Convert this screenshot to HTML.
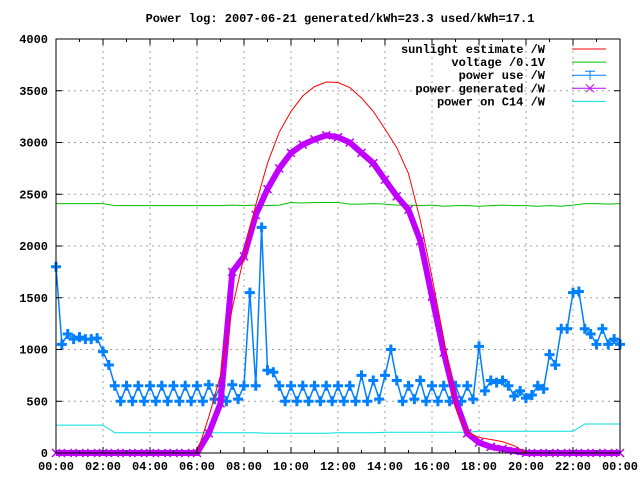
<!DOCTYPE html>
<html><head><meta charset="utf-8"><style>
body{margin:0;background:#fff}
text{font-family:"Liberation Mono","DejaVu Sans Mono",monospace;font-size:12px;font-weight:bold;fill:#000}
</style></head><body>
<svg id="c" width="640" height="480" xmlns="http://www.w3.org/2000/svg">
<text x="340" y="22" text-anchor="middle">Power log: 2007-06-21 generated/kWh=23.3 used/kWh=17.1</text>
<g id="grid"></g><g id="series"></g><g id="axes"></g><g id="legend"></g>
</svg>
<script>
const yTicks=[0,500,1000,1500,2000,2500,3000,3500,4000];
const xTickLabels=["00:00","02:00","04:00","06:00","08:00","10:00","12:00","14:00","16:00","18:00","20:00","22:00","00:00"];
// half-hourly series (49 points, 00:00..24:00)
const sunlight=[0,0,0,0,0,0,0,0,0,0,0,0,0,350,750,1400,1900,2400,2800,3100,3300,3450,3540,3585,3580,3530,3430,3300,3130,2950,2700,2250,1700,1100,450,200,150,130,110,70,0,0,0,0,0,0,0,0,0];
const voltage=[2410,2410,2410,2410,2410,2390,2390,2390,2390,2390,2390,2390,2390,2390,2390,2395,2390,2395,2390,2395,2420,2415,2420,2420,2420,2405,2405,2410,2405,2395,2395,2390,2395,2385,2390,2390,2385,2390,2395,2390,2390,2385,2390,2385,2395,2410,2410,2405,2410];
const generated=[0,0,0,0,0,0,0,0,0,0,0,0,0,190,480,1750,1900,2300,2550,2750,2900,2980,3030,3070,3050,3000,2900,2800,2640,2480,2350,2050,1510,970,510,190,100,60,40,20,0,0,0,0,0,0,0,0,0];
const c14=[270,270,270,270,270,195,195,195,195,195,195,195,195,195,195,195,195,195,190,190,190,190,190,190,195,195,195,195,200,200,200,200,200,200,200,200,210,210,210,210,210,210,210,210,210,280,280,280,280];
// quarter-hourly power use (97 points)
const powerUse=[1800,1050,1150,1100,1120,1100,1100,1110,980,850,650,500,650,500,650,500,650,500,650,500,650,500,650,500,650,500,660,520,650,500,660,520,650,1550,650,2180,800,780,650,500,650,500,650,500,650,500,650,500,650,500,650,500,750,500,700,520,750,1000,700,500,650,520,700,500,650,500,650,500,650,500,650,520,1030,600,700,680,700,650,550,600,530,560,650,620,950,850,1200,1200,1550,1560,1200,1150,1050,1200,1050,1100,1050];
const L=56,R=620,T=39,B=453,NS="http://www.w3.org/2000/svg";
const X=h=>L+(R-L)*h/24, Y=v=>B-(B-T)*v/4000;
function mk(tag,attrs,parent){const e=document.createElementNS(NS,tag);for(const k in attrs)e.setAttribute(k,attrs[k]);document.getElementById(parent).appendChild(e);return e;}
yTicks.forEach((v,i)=>{
 if(i>0&&i<yTicks.length-1){const g=mk('line',{x1:L,x2:R,y1:Y(v),y2:Y(v),stroke:'#a0a0a0','stroke-dasharray':'2,4'},'grid');
 
 }
 const t=mk('text',{x:L-8,y:Y(v)+4,'text-anchor':'end'},'axes');t.textContent=v;
 
 
 mk('line',{x1:L,x2:L+6,y1:Y(v),y2:Y(v),stroke:'#000'},'axes');
 mk('line',{x1:R,x2:R-6,y1:Y(v),y2:Y(v),stroke:'#000'},'axes');
});
xTickLabels.forEach((s,i)=>{
 const x=X(i*2);
 if(i>0&&i<xTickLabels.length-1){const g=mk('line',{x1:x,x2:x,y1:T,y2:B,stroke:'#a0a0a0','stroke-dasharray':'2,4'},'grid');
 
 }
 const t=mk('text',{x:x,y:B+17,'text-anchor':'middle'},'axes');t.textContent=s;
 
 
 mk('line',{x1:x,x2:x,y1:B,y2:B-6,stroke:'#000'},'axes');
 mk('line',{x1:x,x2:x,y1:T,y2:T+6,stroke:'#000'},'axes');
 if(i<12){const xm=X(i*2+1);mk('line',{x1:xm,x2:xm,y1:B,y2:B-3,stroke:'#000'},'axes');mk('line',{x1:xm,x2:xm,y1:T,y2:T+3,stroke:'#000'},'axes');}
});
const fr=mk('rect',{x:L,y:T,width:R-L,height:B-T,fill:'none',stroke:'#000'},'axes');


function pts(arr,step){return arr.map((v,i)=>X(i*step).toFixed(1)+','+Y(v).toFixed(1)).join(' ');}
function line(arr,step,color,w,name){const p=mk('polyline',{points:pts(arr,step),fill:'none',stroke:color,'stroke-width':w},'series');
 
 return p;}
line(voltage,0.5,'#00c000',1,'voltage-line');
line(c14,0.5,'#00e0e0',1,'c14-line');
line(powerUse,0.25,'#0080ff',1.5,'power-use-line');
powerUse.forEach((v,i)=>{const x=X(i*0.25),y=Y(v);
 const m=mk('path',{d:`M${x-5},${y}h10M${x},${y-5}v10`,stroke:'#0080ff','stroke-width':3},'series');
 
 });
line(generated,0.5,'#c000ff',6,'power-generated-line');
generated.forEach((v,i)=>{const x=X(i*0.5),y=Y(v);
 const m=mk('path',{d:`M${x-4},${y-4}l8,8M${x-4},${y+4}l8,-8`,stroke:'#c000ff','stroke-width':1.5},'series');
 
 });
line(sunlight,0.5,'#ff0000',1,'sunlight-line');
const leg=[["sunlight estimate /W","#ff0000"],["voltage /0.1V","#00c000"],["power use /W","#0080ff"],["power generated /W","#c000ff"],["power on C14 /W","#00e0e0"]];
leg.forEach((e,i)=>{const y=49+i*13.1;
 const t=mk('text',{x:545,y:y+4,'text-anchor':'end'},'legend');t.textContent=e[0];
 
 
 mk('line',{x1:572,x2:606,y1:y,y2:y,stroke:e[1]},'legend');
 if(i==2)mk('path',{d:`M585,${y-4}h10M590,${y-5}v10`,stroke:e[1]},'legend');
 if(i==3)mk('path',{d:`M586,${y-4}l8,8M586,${y+4}l8,-8`,stroke:e[1]},'legend');
});
</script>
</body></html>
